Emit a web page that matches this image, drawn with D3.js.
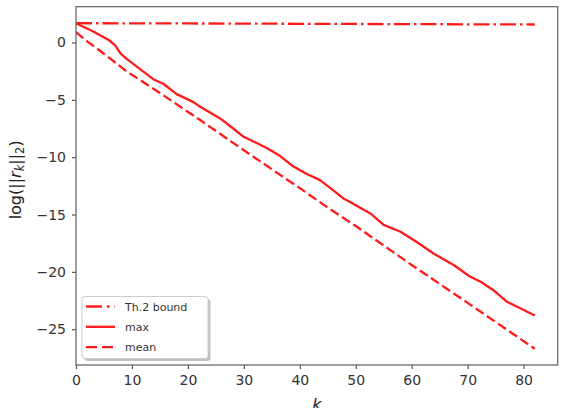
<!DOCTYPE html>
<html>
<head>
<meta charset="utf-8">
<script src="https://cdn.jsdelivr.net/npm/d3@7"></script>
<style>
  body { margin: 0; background: #fff; }
  svg { display: block; font-family: "DejaVu Sans", sans-serif; }
</style>
</head>
<body>
<script>
// values
var boundK = [0, 20, 40, 60, 82];
var boundV = [1.68, 1.66, 1.63, 1.60, 1.57];

var maxK = [0, 3, 6, 7, 8, 9, 11.4, 13.8, 15.6, 18, 21, 22.2, 25.7, 28.1, 29.9, 32, 34.1, 36.5, 38.8, 41, 43.6, 46, 47.8, 49, 52.6, 55, 58, 60.9, 63.9, 67.5, 70.4, 72.5, 74.6, 77, 79.5, 82];
var maxV = [1.68, 0.98, 0.17, -0.26, -0.98, -1.4, -2.3, -3.2, -3.6, -4.5, -5.2, -5.6, -6.6, -7.5, -8.2, -8.7, -9.2, -9.9, -10.8, -11.4, -12.0, -12.9, -13.6, -13.9, -14.9, -15.9, -16.5, -17.4, -18.4, -19.4, -20.4, -20.9, -21.6, -22.6, -23.2, -23.8];

var meanK = [0, 2, 5, 9, 15, 22, 30, 40, 45, 50, 60, 70, 82];
var meanV = [0.9, 0.1, -0.98, -2.5, -4.4, -6.7, -9.4, -12.7, -14.4, -16.0, -19.4, -22.7, -26.7];

var xTicks = [0, 10, 20, 30, 40, 50, 60, 70, 80];
var yTicks = [0, -5, -10, -15, -20, -25];
var labels = ["Th.2 bound", "max", "mean"];

var W = 564, H = 408;
var pL = 76, pR = 557.7, pT = 6.7, pB = 365;

var svg = d3.select("body").append("svg").attr("width", W).attr("height", H);

var x = d3.scaleLinear().domain([0, 86.1]).range([pL, pR]);
var y = d3.scaleLinear().domain([-28.12, 3.12]).range([pB, pT]);

var red = "#ff1a1a";
var series = [
  {k: boundK, v: boundV, dash: "16,4,2.5,4", legDash: "16,5,2.5,5"},
  {k: maxK, v: maxV, dash: null, legDash: null},
  {k: meanK, v: meanV, dash: "9.5,4", legDash: "11,5"}
];

var line = d3.line()
  .x(function(d) { return x(d[0]); })
  .y(function(d) { return y(d[1]); });

svg.append("defs").append("clipPath").attr("id", "clip")
  .append("rect").attr("x", pL).attr("y", pT).attr("width", pR - pL).attr("height", pB - pT);

var plot = svg.append("g").attr("clip-path", "url(#clip)");
series.forEach(function(s) {
  var pts = s.k.map(function(k, i) { return [k, s.v[i]]; });
  plot.append("path")
    .attr("d", line(pts))
    .attr("fill", "none")
    .attr("stroke", red)
    .attr("stroke-width", 2.3)
    .attr("stroke-linejoin", "round")
    .attr("stroke-dasharray", s.dash);
});

// axes
var xAxis = d3.axisBottom(x).tickValues(xTicks).tickSize(4).tickPadding(6)
  .tickFormat(function(d) { return d; });
var yAxis = d3.axisLeft(y).tickValues(yTicks).tickSize(4).tickPadding(6)
  .tickFormat(function(d) { return d < 0 ? "\u2212" + Math.abs(d) : d; });

var gx = svg.append("g").attr("transform", "translate(0," + pB + ")").call(xAxis);
var gy = svg.append("g").attr("transform", "translate(" + pL + ",0)").call(yAxis);
[gx, gy].forEach(function(g) {
  g.select(".domain").remove();
  g.selectAll(".tick line").attr("stroke", "#555").attr("stroke-width", 1.2);
  g.selectAll(".tick text").attr("fill", "#333").style("font-size", "14px")
    .style("font-family", "DejaVu Sans");
});

svg.append("rect")
  .attr("x", pL).attr("y", pT).attr("width", pR - pL).attr("height", pB - pT)
  .attr("fill", "none").attr("stroke", "#6a6a6a").attr("stroke-width", 1.3);

// axis labels
svg.append("text")
  .attr("x", (pL + pR) / 2).attr("y", 410)
  .attr("text-anchor", "middle")
  .style("font-size", "16px").style("font-style", "italic").attr("fill", "#222")
  .text("k");

var yl = svg.append("text")
  .attr("transform", "translate(21," + ((pT + pB) / 2 - 6) + ") rotate(-90)")
  .attr("text-anchor", "middle")
  .style("font-size", "16px").attr("fill", "#222");
yl.append("tspan").text("log(||");
yl.append("tspan").style("font-style", "italic").text("r");
yl.append("tspan").style("font-style", "italic").style("font-size", "11.5px").attr("dy", 3).text("k");
yl.append("tspan").attr("dy", -3).text("||");
yl.append("tspan").style("font-size", "11.5px").attr("dy", 3).text("2");
yl.append("tspan").attr("dy", -3).text(")");

// legend
var lg = svg.append("g").attr("transform", "translate(82,296.5)");
lg.append("rect").attr("x", 2.5).attr("y", 2.5).attr("width", 126).attr("height", 62)
  .attr("rx", 3).attr("fill", "#999").attr("opacity", 0.6);
lg.append("rect").attr("width", 126).attr("height", 62).attr("rx", 3)
  .attr("fill", "#fff").attr("stroke", "#ccc").attr("stroke-width", 1);
labels.forEach(function(t, i) {
  var yy = 10 + i * 20.3;
  lg.append("line").attr("x1", 4).attr("x2", 33).attr("y1", yy).attr("y2", yy)
    .attr("stroke", red).attr("stroke-width", 2.3)
    .attr("stroke-dasharray", series[i].legDash);
  lg.append("text").attr("x", 43).attr("y", yy + 4).style("font-size", "11px")
    .attr("fill", "#333").text(t);
});
</script>
</body>
</html>
